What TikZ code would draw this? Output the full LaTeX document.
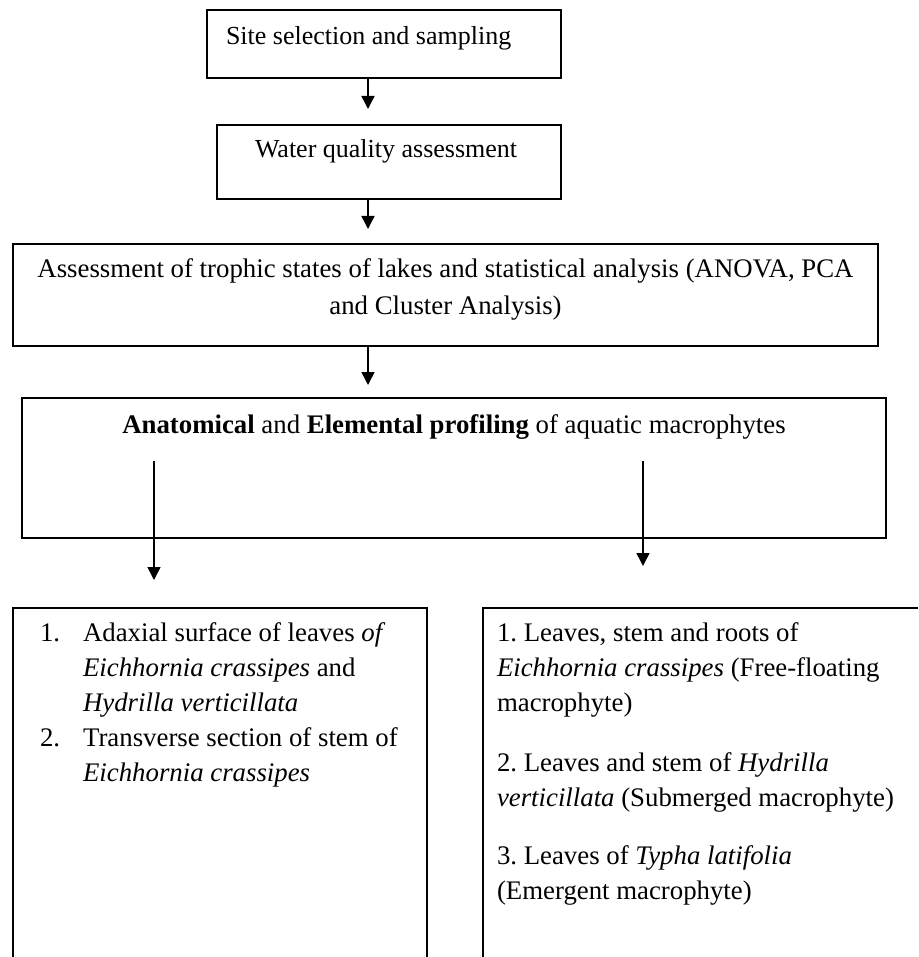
\documentclass[tikz,border=0pt]{standalone}
\usepackage{fontspec}
\setmainfont{Liberation Serif}
\usetikzlibrary{arrows.meta}
\frenchspacing
\begin{document}
\begin{tikzpicture}[x=1pt,y=-1pt,
  boxframe/.style={draw, line width=1.5pt, inner sep=0pt, outer sep=0pt, anchor=north west},
  openframe/.style={draw=none, inner sep=0pt, outer sep=0pt, anchor=north west},
  txt/.style={inner sep=0pt, outer sep=0pt, font=\fontsize{26}{32.5}\selectfont},
  txtb/.style={inner sep=0pt, outer sep=0pt, font=\fontsize{26.8}{36}\selectfont},
  txtl/.style={inner sep=0pt, outer sep=0pt, font=\fontsize{26.8}{35}\selectfont},
  arr/.style={line width=1.5pt, -{Triangle[width=13pt,length=13pt]}}]
\useasboundingbox (0,0) rectangle (918,957);
% boxes
\node[boxframe, minimum width=354pt, minimum height=68pt] (b1) at (207,10) {};
\node[boxframe, minimum width=344pt, minimum height=74pt] (b2) at (217,125) {};
\node[boxframe, minimum width=865pt, minimum height=102pt] (b3) at (13,244) {};
\node[boxframe, minimum width=864pt, minimum height=140pt] (b4) at (22,398) {};
\node[openframe, minimum width=414pt, minimum height=349pt] (b5) at (13,608) {};
\node[openframe, minimum width=435pt, minimum height=349pt] (b6) at (483,608) {};
\draw[line width=1.5pt] (b5.south west) -- (b5.north west) -- (b5.north east) -- (b5.south east);
\draw[line width=1.5pt] (b6.south west) -- (b6.north west) -- (b6.north east);
% texts
\node[txt, anchor=base west] (t1) at (226,45) {Site selection and sampling};
\node[txt, anchor=base west] (t2) at (255,158) {Water quality assessment};
\node[txtb, anchor=base, align=center] (t3) at (445.5,314) {Assessment of trophic states of lakes and statistical analysis (ANOVA, PCA\\ and Cluster Analysis)};
\node[txtb, anchor=base] (t4) at (454,433) {\textbf{Anatomical} and \textbf{Elemental profiling} of aquatic macrophytes};
\node[txtl, anchor=base west] (t5) at (40,641) {%
  \begin{tabular}[t]{@{}l@{\hspace{23pt}}l@{}}
  1. & Adaxial surface of leaves \textit{of}\\
     & \textit{Eichhornia crassipes} and\\
     & \textit{Hydrilla verticillata}\\
  2. & Transverse section of stem of\\
     & \textit{Eichhornia crassipes}
  \end{tabular}};
\node[txtl, anchor=base west] (t6) at (497,641) {%
  \begin{tabular}[t]{@{}l@{}}
  1. Leaves, stem and roots of\\
  \textit{Eichhornia crassipes} (Free-floating\\
  macrophyte)\\[25pt]
  2. Leaves and stem of \textit{Hydrilla}\\
  \textit{verticillata} (Submerged macrophyte)\\[23pt]
  3. Leaves of \textit{Typha latifolia}\\
  (Emergent macrophyte)
  \end{tabular}};
% arrows
\coordinate (e1) at (368,109);
\coordinate (e2) at (368,229);
\coordinate (e3) at (368,385);
\coordinate (s4) at (154,461);
\coordinate (e4) at (154,580);
\coordinate (s5) at (643,461);
\coordinate (e5) at (643,566);
\draw[arr] (b1.south -| e1) -- (e1);
\draw[arr] (b2.south -| e2) -- (e2);
\draw[arr] (b3.south -| e3) -- (e3);
\draw[arr] (s4) -- (e4);
\draw[arr] (s5) -- (e5);
\end{tikzpicture}
\end{document}
